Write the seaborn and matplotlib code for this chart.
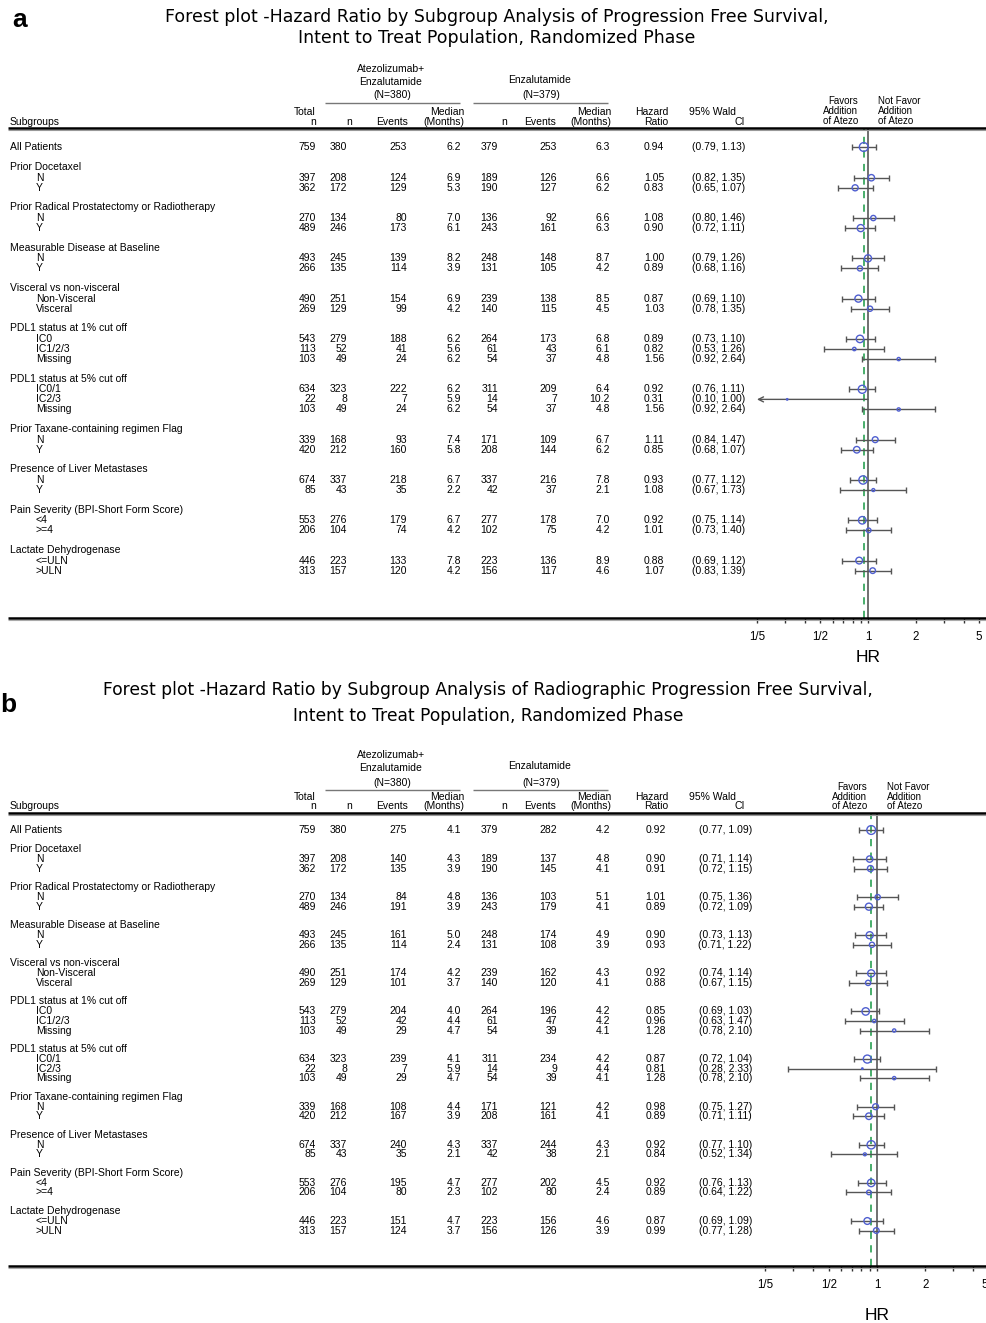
import numpy as np
import matplotlib
matplotlib.use("Agg")
import matplotlib.pyplot as plt
import seaborn as sns
from matplotlib.transforms import Affine2D, ScaledTranslation
from matplotlib.lines import Line2D
from matplotlib.ticker import FixedLocator, NullFormatter

sns.set_theme(style="white")
plt.rcParams['font.family'] = ['Liberation Sans Narrow', 'Liberation Sans', 'DejaVu Sans']
plt.rcParams['text.color'] = 'black'
plt.rcParams['xtick.color'] = 'black'
plt.rcParams['xtick.labelcolor'] = 'black'

W, H = 987, 1323

# ---------------- data ----------------
group_labels = ["All Patients", "Prior Docetaxel", "Prior Radical Prostatectomy or Radiotherapy",
                "Measurable Disease at Baseline", "Visceral vs non-visceral",
                "PDL1 status at 1% cut off", "PDL1 status at 5% cut off",
                "Prior Taxane-containing regimen Flag", "Presence of Liver Metastases",
                "Pain Severity (BPI-Short Form Score)", "Lactate Dehydrogenase"]
level_labels = [[], ["N", "Y"], ["N", "Y"], ["N", "Y"], ["Non-Visceral", "Visceral"],
                ["IC0", "IC1/2/3", "Missing"], ["IC0/1", "IC2/3", "Missing"],
                ["N", "Y"], ["N", "Y"], ["<4", ">=4"], ["<=ULN", ">ULN"]]

total_n = [759, 397, 362, 270, 489, 493, 266, 490, 269, 543, 113, 103, 634, 22, 103,
           339, 420, 674, 85, 553, 206, 446, 313]
n_atezo = [380, 208, 172, 134, 246, 245, 135, 251, 129, 279, 52, 49, 323, 8, 49,
           168, 212, 337, 43, 276, 104, 223, 157]
n_enza = [379, 189, 190, 136, 243, 248, 131, 239, 140, 264, 61, 54, 311, 14, 54,
          171, 208, 337, 42, 277, 102, 223, 156]

# Panel a: Progression Free Survival
a_events_atezo = [253, 124, 129, 80, 173, 139, 114, 154, 99, 188, 41, 24, 222, 7, 24,
                  93, 160, 218, 35, 179, 74, 133, 120]
a_median_atezo = [6.2, 6.9, 5.3, 7.0, 6.1, 8.2, 3.9, 6.9, 4.2, 6.2, 5.6, 6.2, 6.2, 5.9, 6.2,
                  7.4, 5.8, 6.7, 2.2, 6.7, 4.2, 7.8, 4.2]
a_events_enza = [253, 126, 127, 92, 161, 148, 105, 138, 115, 173, 43, 37, 209, 7, 37,
                 109, 144, 216, 37, 178, 75, 136, 117]
a_median_enza = [6.3, 6.6, 6.2, 6.6, 6.3, 8.7, 4.2, 8.5, 4.5, 6.8, 6.1, 4.8, 6.4, 10.2, 4.8,
                 6.7, 6.2, 7.8, 2.1, 7.0, 4.2, 8.9, 4.6]
a_hr = [0.94, 1.05, 0.83, 1.08, 0.90, 1.00, 0.89, 0.87, 1.03, 0.89, 0.82, 1.56, 0.92, 0.31, 1.56,
        1.11, 0.85, 0.93, 1.08, 0.92, 1.01, 0.88, 1.07]
a_lo = [0.79, 0.82, 0.65, 0.80, 0.72, 0.79, 0.68, 0.69, 0.78, 0.73, 0.53, 0.92, 0.76, 0.10, 0.92,
        0.84, 0.68, 0.77, 0.67, 0.75, 0.73, 0.69, 0.83]
a_hi = [1.13, 1.35, 1.07, 1.46, 1.11, 1.26, 1.16, 1.10, 1.35, 1.10, 1.26, 2.64, 1.11, 1.00, 2.64,
        1.47, 1.07, 1.12, 1.73, 1.14, 1.40, 1.12, 1.39]

# Panel b: Radiographic Progression Free Survival
b_events_atezo = [275, 140, 135, 84, 191, 161, 114, 174, 101, 204, 42, 29, 239, 7, 29,
                  108, 167, 240, 35, 195, 80, 151, 124]
b_median_atezo = [4.1, 4.3, 3.9, 4.8, 3.9, 5.0, 2.4, 4.2, 3.7, 4.0, 4.4, 4.7, 4.1, 5.9, 4.7,
                  4.4, 3.9, 4.3, 2.1, 4.7, 2.3, 4.7, 3.7]
b_events_enza = [282, 137, 145, 103, 179, 174, 108, 162, 120, 196, 47, 39, 234, 9, 39,
                 121, 161, 244, 38, 202, 80, 156, 126]
b_median_enza = [4.2, 4.8, 4.1, 5.1, 4.1, 4.9, 3.9, 4.3, 4.1, 4.2, 4.2, 4.1, 4.2, 4.4, 4.1,
                 4.2, 4.1, 4.3, 2.1, 4.5, 2.4, 4.6, 3.9]
b_hr = [0.92, 0.90, 0.91, 1.01, 0.89, 0.90, 0.93, 0.92, 0.88, 0.85, 0.96, 1.28, 0.87, 0.81, 1.28,
        0.98, 0.89, 0.92, 0.84, 0.92, 0.89, 0.87, 0.99]
b_lo = [0.77, 0.71, 0.72, 0.75, 0.72, 0.73, 0.71, 0.74, 0.67, 0.69, 0.63, 0.78, 0.72, 0.28, 0.78,
        0.75, 0.71, 0.77, 0.52, 0.76, 0.64, 0.69, 0.77]
b_hi = [1.09, 1.14, 1.15, 1.36, 1.09, 1.13, 1.22, 1.14, 1.15, 1.03, 1.47, 2.10, 1.04, 2.33, 2.10,
        1.27, 1.11, 1.10, 1.34, 1.13, 1.22, 1.09, 1.28]

tick_values = [0.2, 0.5, 1, 2, 5]
tick_labels = ["1/5", "1/2", "1", "2", "5"]
minor_values = [0.3, 0.4, 0.6, 0.7, 0.8, 0.9, 3, 4]

title_a = ["Forest plot -Hazard Ratio by Subgroup Analysis of Progression Free Survival,",
           "Intent to Treat Population, Randomized Phase"]
title_b = ["Forest plot -Hazard Ratio by Subgroup Analysis of Radiographic Progression Free Survival,",
           "Intent to Treat Population, Randomized Phase"]

# ---------------- figure ----------------
fig = plt.figure(figsize=(W / 100, H / 100), dpi=100)
PX = Affine2D().scale(1 / W, -1 / H).translate(0, 1) + fig.transFigure

TXT = 7.5
BLUE = "#4f5fd0"
GREY = "#555555"


def ptext(x, y, s, **kw):
    kw.setdefault("fontsize", TXT)
    kw.setdefault("va", "center")
    kw.setdefault("color", "black")
    fig.text(x, y, s, transform=PX, **kw)


def hline(x0, x1, y, lw, color):
    fig.add_artist(Line2D([x0, x1], [y, y], transform=PX, lw=lw, color=color,
                          solid_capstyle="butt"))


def build_rows():
    rows = []
    y = 0.0
    for g, lv in zip(group_labels, level_labels):
        if not lv:
            rows.append((g, y, True, False))
            y += 2
        else:
            rows.append((g, y, False, False))
            for i, l in enumerate(lv):
                rows.append((l, y + 1.05 + i, True, True))
            y += len(lv) + 2
    return rows


def panel(L, letter, title, ev1, med1, ev2, med2, hr, lo, hi):
    rows = build_rows()
    ydata = np.array([r[1] for r in rows if r[2]])
    y0, pitch, ytop, ybot = L["y0"], L["pitch"], L["ytop"], L["ybot"]
    rtop = (ytop - y0) / pitch
    rbot = (ybot - y0) / pitch
    rect_y = 1 - ybot / H
    rect_h = (ybot - ytop) / H

    # letter + title
    ptext(L["letter_x"], L["letter_y"], letter, fontsize=19, fontweight="bold",
          family=["Liberation Sans", "DejaVu Sans"], ha="center")
    for t, ty in zip(title, L["title_y"]):
        ptext(L["title_x"], ty, t, fontsize=L["title_fs"], ha="center",
              family=["Liberation Sans Narrow", "DejaVu Sans"])

    # column headers
    hy = L["hdr"]
    ptext(391, hy[0], "Atezolizumab+", ha="center")
    ptext(391, hy[1], "Enzalutamide", ha="center")
    ptext(392, hy[2], "(N=380)", ha="center")
    ptext(540, hy[4], "Enzalutamide", ha="center")
    ptext(541, hy[2], "(N=379)", ha="center")
    hline(325, 460, hy[3], 1.0, "#777777")
    hline(473, 608, hy[3], 1.0, "#777777")
    ptext(10, hy[6], "Subgroups", ha="left")
    ptext(316, hy[5], "Total", ha="right")
    ptext(316, hy[6], "n", ha="right")
    ptext(352, hy[6], "n", ha="right")
    ptext(408, hy[6], "Events", ha="right")
    ptext(464, hy[5], "Median", ha="right")
    ptext(464, hy[6], "(Months)", ha="right")
    ptext(507, hy[6], "n", ha="right")
    ptext(556, hy[6], "Events", ha="right")
    ptext(611, hy[5], "Median", ha="right")
    ptext(611, hy[6], "(Months)", ha="right")
    ptext(668, hy[5], "Hazard", ha="right")
    ptext(668, hy[6], "Ratio", ha="right")
    ptext(736, hy[5], "95% Wald", ha="right")
    ptext(745, hy[6], "CI", ha="right")
    fav = L["fav"]
    for s, yy in zip(["Favors", "Addition", "of Atezo"], fav):
        ptext(L["x1"] - 10, yy, s, ha="right", fontsize=7)
    for s, yy in zip(["Not Favor", "Addition", "of Atezo"], fav):
        ptext(L["x1"] + 10, yy, s, ha="left", fontsize=7)

    # header / bottom rules
    hline(8, 987, ytop, 1.8, "black")
    hline(8, 987, ytop + 2.2, 0.8, "#999999")
    hline(8, 987, ybot, 1.8, "black")
    hline(8, 987, ybot + 2.2, 0.8, "#aaaaaa")

    # ---------- table axes ----------
    tab = fig.add_axes([0, rect_y, 1, rect_h])
    tab.set_xlim(0, W)
    tab.set_ylim(rbot, rtop)
    tab.axis("off")
    for lab, yy, isdata, indent in rows:
        tab.text(36 if indent else 10, yy, lab, fontsize=TXT, ha="left", va="center",
                 color="black")
    cols = [
        (total_n, L["cx"][0], "{:d}"),
        (n_atezo, L["cx"][1], "{:d}"),
        (ev1, L["cx"][2], "{:d}"),
        (med1, L["cx"][3], "{:.1f}"),
        (n_enza, L["cx"][4], "{:d}"),
        (ev2, L["cx"][5], "{:d}"),
        (med2, L["cx"][6], "{:.1f}"),
        (hr, L["cx"][7], "{:.2f}"),
    ]
    for arr, xr, fmt in cols:
        for v, yy in zip(arr, ydata):
            tab.text(xr, yy, fmt.format(v), fontsize=TXT, ha="right", va="center",
                     color="black")
    for l_, h_, yy in zip(lo, hi, ydata):
        tab.text(L["cx"][8], yy, "({:.2f}, {:.2f})".format(l_, h_), fontsize=TXT,
                 ha="right", va="center", color="black")

    # ---------- forest axes ----------
    xl_px, xr_px = 740, L["xr_px"]
    k, x1 = L["k"], L["x1"]
    xmin = np.exp((xl_px - x1) / k)
    xmax = np.exp((xr_px - x1) / k)
    ax = fig.add_axes([xl_px / W, rect_y, (xr_px - xl_px) / W, rect_h])
    ax.set_xscale("log")
    ax.set_xlim(xmin, xmax)
    ax.set_ylim(rbot, rtop)
    ax.patch.set_alpha(0)
    for sp in ax.spines.values():
        sp.set_visible(False)
    ax.set_yticks([])
    ax.xaxis.set_major_locator(FixedLocator(tick_values))
    ax.set_xticklabels(tick_labels)
    ax.xaxis.set_minor_locator(FixedLocator(minor_values))
    ax.xaxis.set_minor_formatter(NullFormatter())
    ax.tick_params(axis="x", which="both", direction="out", bottom=True, length=3.6,
                   width=1.0, color="#333333", labelsize=8.3, pad=6)
    for t in ax.get_xticklabels():
        t.set_fontfamily(["Liberation Sans", "DejaVu Sans"])
    if L.get("shift_last"):
        last = ax.get_xticklabels()[-1]
        last.set_transform(last.get_transform() +
                           ScaledTranslation(-3 / 72, 0, fig.dpi_scale_trans))

    ax.axvline(1.0, color="#707070", lw=1.4, zorder=1)
    ax.axvline(hr[0], color="#3aa860", lw=1.3, ls=(0, (4, 3.5)), zorder=1)

    hr_a, lo_a, hi_a = np.array(hr), np.array(lo), np.array(hi)
    inside = lo_a >= xmin
    ax.errorbar(hr_a[inside], ydata[inside],
                xerr=[hr_a[inside] - lo_a[inside], hi_a[inside] - hr_a[inside]],
                fmt="none", ecolor=GREY, elinewidth=1.0, capsize=2.2, capthick=1.0, zorder=2)
    for h_, l_, yy in zip(hi_a[~inside], lo_a[~inside], ydata[~inside]):
        ax.annotate("", xy=(0.2, yy), xytext=(h_, yy),
                    arrowprops=dict(arrowstyle="->", color=GREY, lw=1.0, mutation_scale=9,
                                    shrinkA=0, shrinkB=0))
    sns.scatterplot(x=hr_a, y=ydata, size=np.array(total_n, dtype=float),
                    sizes=(0, 40), size_norm=(0, 759), legend=False, ax=ax,
                    facecolor="none", edgecolor=BLUE, color=BLUE, linewidth=1.0, zorder=3)
    ax.set_xlabel("")
    ax.set_ylabel("")
    ax.set_ylim(rbot, rtop)
    ax.set_xlim(xmin, xmax)
    ptext(x1, L["hr_y"], "HR", fontsize=12.5, ha="center",
          family=["Liberation Sans", "DejaVu Sans"])


LA = dict(y0=147, pitch=10.075, ytop=128, ybot=618, x1=868, k=69.0, xr_px=987,
          letter_x=20, letter_y=20, title_x=497, title_y=(17, 38), title_fs=12.5,
          hdr=(69, 82, 95, 103, 80, 112, 122), fav=(101, 111, 121), hr_y=657,
          cx=(316, 347, 407, 461, 498, 557, 610, 664, 745))
LB = dict(y0=830, pitch=9.525, ytop=813, ybot=1266, x1=877, k=69.6, xr_px=992,
          letter_x=8, letter_y=705, title_x=488, title_y=(690, 716), title_fs=12.3,
          hdr=(755, 768, 783, 790, 766, 797, 806), fav=(787, 797, 806), hr_y=1315,
          cx=(316, 347, 407, 461, 498, 557, 610, 666, 752), shift_last=True)

panel(LA, "a", title_a, a_events_atezo, a_median_atezo, a_events_enza, a_median_enza,
      a_hr, a_lo, a_hi)
panel(LB, "b", title_b, b_events_atezo, b_median_atezo, b_events_enza, b_median_enza,
      b_hr, b_lo, b_hi)

fig.savefig("out.png", dpi=100, facecolor="white")
